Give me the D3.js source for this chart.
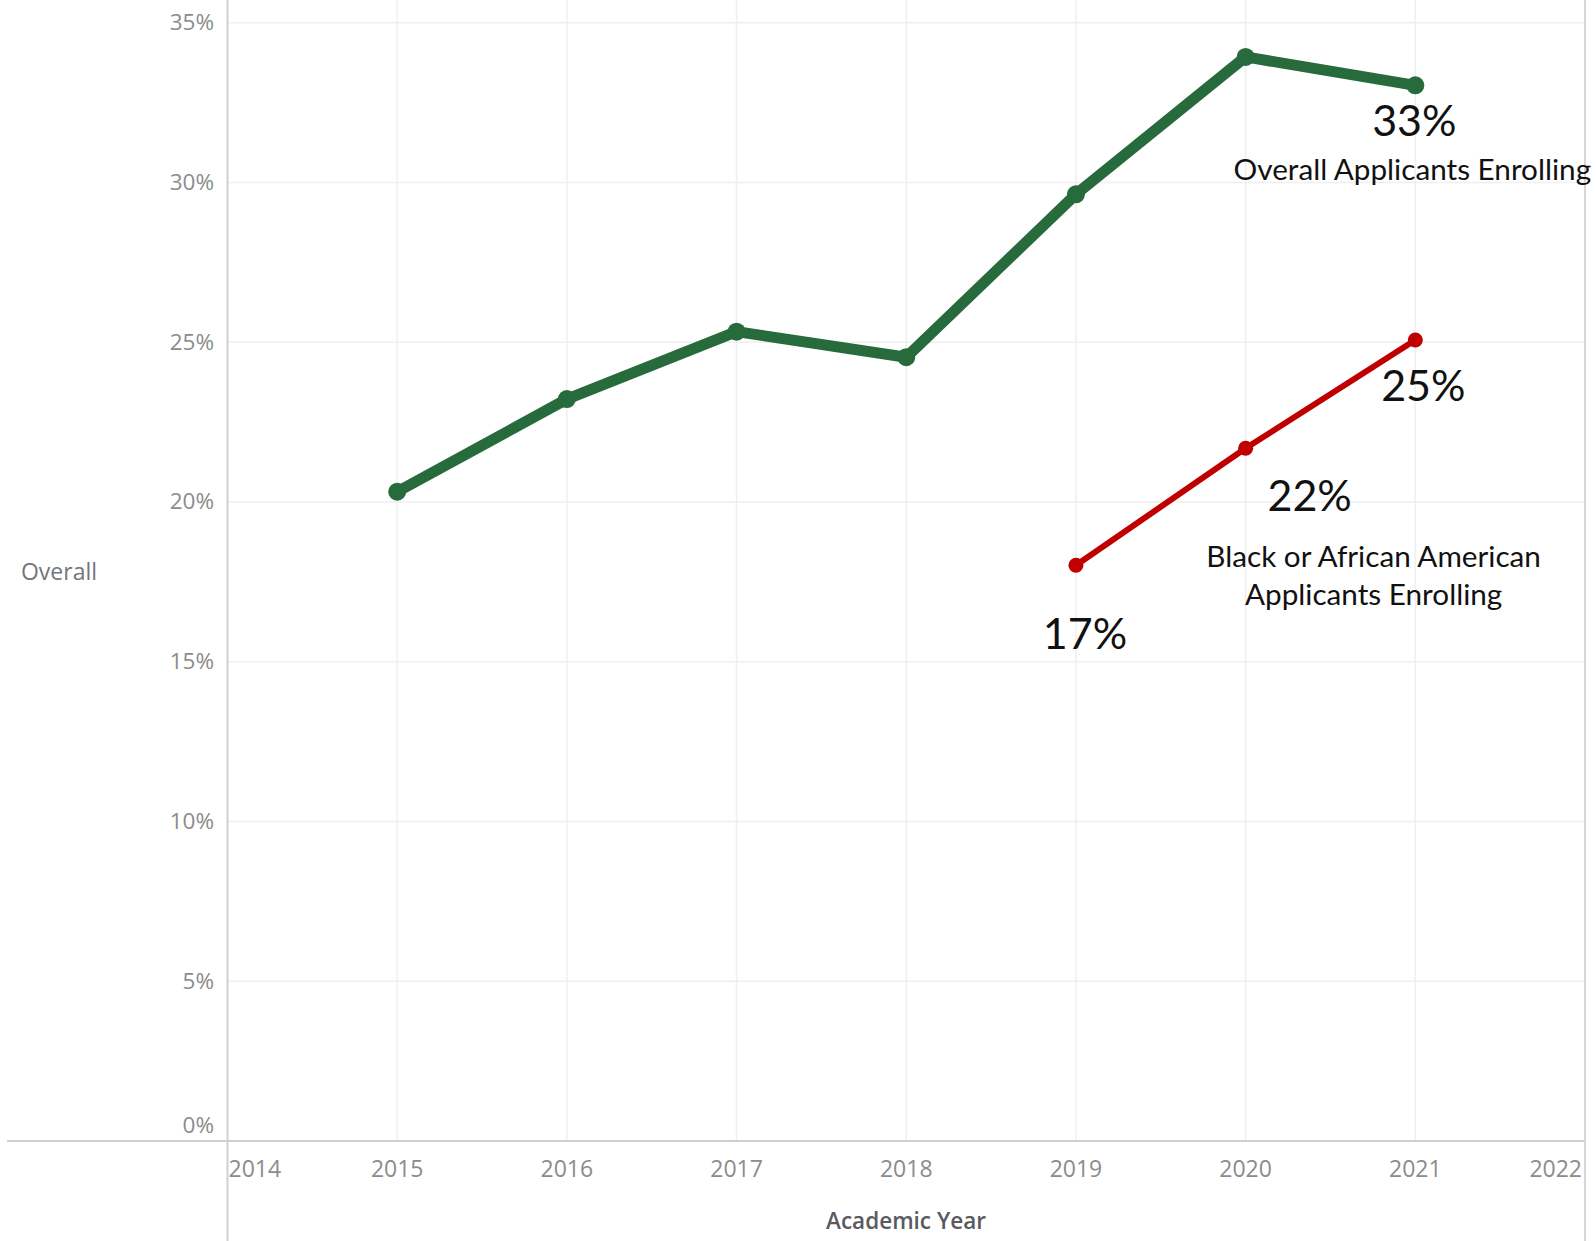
<!DOCTYPE html>
<html>
<head>
<meta charset="utf-8">
<script src="https://cdn.jsdelivr.net/npm/d3@7"></script>
<style>
  html, body { margin: 0; padding: 0; background: #fff; }
  svg { display: block; }
</style>
</head>
<body>
<svg id="chart" width="1596" height="1241"></svg>
<script>
// ---- Data ----
const years = [2015, 2016, 2017, 2018, 2019, 2020, 2021];
const overallValues = [0.2032, 0.2322, 0.2533, 0.2453, 0.2963, 0.3393, 0.3304];
const blackYears = [2019, 2020, 2021];
const blackValues = [0.1802, 0.2168, 0.2507];
const yTicks = [0, 0.05, 0.10, 0.15, 0.20, 0.25, 0.30, 0.35];
const xTicks = [2014, 2015, 2016, 2017, 2018, 2019, 2020, 2021, 2022];
const overallLabel = "Overall Applicants Enrolling";
const blackLabelLines = ["Black or African American", "Applicants Enrolling"];
const overallValueLabels = ["33%"];
const blackValueLabels = ["17%", "22%", "25%"];
const yTitle = "Overall";
const xTitle = "Academic Year";

// ---- Layout ----
const W = 1596, H = 1241;
const left = 227.5, right = 1585, bottom = 1141, top35 = 22.7;
const svg = d3.select("#chart");

const x = d3.scaleLinear().domain([2014, 2022]).range([left, right]);
const y = d3.scaleLinear().domain([0, 0.35]).range([bottom, top35]);

const tickFont = "'Open Sans', sans-serif";
const annFont = "Lato, 'Open Sans', sans-serif";

// gridlines
svg.append("g").selectAll("line.hg")
  .data(yTicks.filter(d => d > 0))
  .join("line")
  .attr("x1", left).attr("x2", right)
  .attr("y1", d => y(d)).attr("y2", d => y(d))
  .attr("stroke", "#efefef").attr("stroke-width", 1.5);

svg.append("g").selectAll("line.vg")
  .data(xTicks.filter(d => d > 2014 && d < 2022))
  .join("line")
  .attr("x1", d => x(d)).attr("x2", d => x(d))
  .attr("y1", 0).attr("y2", bottom)
  .attr("stroke", "#efefef").attr("stroke-width", 1.5);

// axis lines
svg.append("line").attr("x1", 7).attr("x2", right).attr("y1", bottom).attr("y2", bottom)
  .attr("stroke", "#cfcfcf").attr("stroke-width", 2);
svg.append("line").attr("x1", left).attr("x2", left).attr("y1", 0).attr("y2", H)
  .attr("stroke", "#cfcfcf").attr("stroke-width", 2);
svg.append("line").attr("x1", right).attr("x2", right).attr("y1", 0).attr("y2", H)
  .attr("stroke", "#d6d6d6").attr("stroke-width", 2);

// y tick labels
svg.append("g").selectAll("text")
  .data(yTicks)
  .join("text")
  .attr("x", 214)
  .attr("y", d => d === 0 ? y(d) - 17 : y(d) - 1)
  .attr("text-anchor", "end")
  .attr("dominant-baseline", "central")
  .attr("font-family", tickFont)
  .attr("font-size", 22.5)
  .attr("fill", "#8c8c8c")
  .text(d => d3.format(".0%")(d));

// x tick labels
svg.append("g").selectAll("text")
  .data(xTicks)
  .join("text")
  .attr("x", d => d === 2014 ? x(d) + 1 : d === 2022 ? x(d) - 3 : x(d))
  .attr("y", 1168)
  .attr("text-anchor", d => d === 2014 ? "start" : d === 2022 ? "end" : "middle")
  .attr("dominant-baseline", "central")
  .attr("font-family", tickFont)
  .attr("font-size", 23)
  .attr("fill", "#8c8c8c")
  .text(d => d);

// axis titles
svg.append("text").attr("x", 59).attr("y", 571)
  .attr("text-anchor", "middle").attr("dominant-baseline", "central")
  .attr("font-family", tickFont).attr("font-size", 23).attr("fill", "#73767c")
  .text(yTitle);
svg.append("text").attr("x", 906).attr("y", 1220)
  .attr("text-anchor", "middle").attr("dominant-baseline", "central")
  .attr("font-family", tickFont).attr("font-size", 22.5).attr("font-weight", 600).attr("fill", "#5a5a5f")
  .text(xTitle);

// lines
const green = "#276a3c", red = "#c00000";
const line = d3.line().x(d => x(d[0])).y(d => y(d[1]));
const overallPts = years.map((yr, i) => [yr, overallValues[i]]);
const blackPts = blackYears.map((yr, i) => [yr, blackValues[i]]);

svg.append("path").datum(overallPts).attr("d", line)
  .attr("fill", "none").attr("stroke", green).attr("stroke-width", 11)
  .attr("stroke-linejoin", "round").attr("stroke-linecap", "round");
svg.append("g").selectAll("circle").data(overallPts).join("circle")
  .attr("cx", d => x(d[0])).attr("cy", d => y(d[1])).attr("r", 9).attr("fill", green);

svg.append("path").datum(blackPts).attr("d", line)
  .attr("fill", "none").attr("stroke", red).attr("stroke-width", 6)
  .attr("stroke-linejoin", "round").attr("stroke-linecap", "round");
svg.append("g").selectAll("circle").data(blackPts).join("circle")
  .attr("cx", d => x(d[0])).attr("cy", d => y(d[1])).attr("r", 7.5).attr("fill", red);

// annotations
const ann = svg.append("g").attr("font-family", annFont).attr("fill", "#111");
const lastO = overallPts[overallPts.length - 1];
ann.append("text").attr("x", x(lastO[0]) - 1).attr("y", y(lastO[1]) + 51)
  .attr("text-anchor", "middle").attr("font-size", 43).text(overallValueLabels[0]);
ann.append("text").attr("x", x(lastO[0]) - 3).attr("y", y(lastO[1]) + 95)
  .attr("text-anchor", "middle").attr("font-size", 29.7).text(overallLabel);

const bOffsets = [[9, 84], [64, 63], [8, 61]];
blackPts.forEach((p, i) => {
  ann.append("text").attr("x", x(p[0]) + bOffsets[i][0]).attr("y", y(p[1]) + bOffsets[i][1])
    .attr("text-anchor", "middle").attr("font-size", 43).text(blackValueLabels[i]);
});
const mid = blackPts[1];
blackLabelLines.forEach((t, i) => {
  ann.append("text").attr("x", x(mid[0]) + 128).attr("y", y(mid[1]) + 119 + i * 38)
    .attr("text-anchor", "middle").attr("font-size", 29.7).text(t);
});
</script>
</body>
</html>
